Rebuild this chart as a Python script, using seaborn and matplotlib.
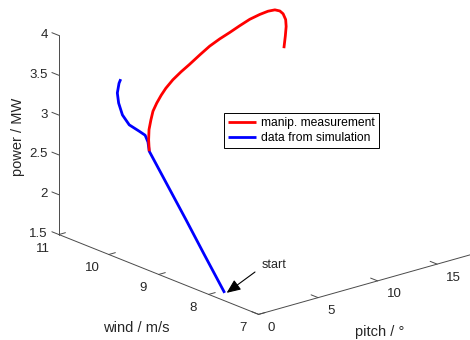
import numpy as np
import matplotlib
matplotlib.use("Agg")
import matplotlib.pyplot as plt
import seaborn as sns
import pandas as pd
from mpl_toolkits.mplot3d import proj3d

# ---------------- data ----------------
series_names = ["manip. measurement", "data from simulation"]

meas_pitch = [0, 0.2, 0.4, 0.6, 0.9, 1.3, 1.8, 2.4, 3.2, 4.1, 5.0, 6.3, 7.3,
              8.4, 9.5, 10.7, 11.8, 12.9, 13.8, 14.5, 15.0, 15.4, 15.7, 15.95,
              16.3, 16.6]
meas_wind = [9.19, 9.25, 9.29, 9.30, 9.33, 9.35, 9.38, 9.43, 9.48, 9.53, 9.58,
             9.67, 9.72, 9.78, 9.84, 9.93, 9.99, 10.05, 10.10, 10.13, 10.15,
             10.18, 10.20, 10.25, 10.35, 10.45]
meas_power = [3.00, 3.12, 3.23, 3.34, 3.43, 3.51, 3.58, 3.63, 3.69, 3.74, 3.78,
              3.83, 3.88, 3.91, 3.93, 3.94, 3.96, 3.96, 3.95, 3.93, 3.89, 3.83,
              3.74, 3.63, 3.47, 3.28]

sim_pitch = [0, 0, 0, 0, 0.1, 0.2, 0.3, 0.5, 0.6, 0.7, 0.8, 0.9, 1.0]
sim_wind = [7.68, 8.09, 8.45, 9.19, 9.24, 9.32, 9.46, 9.71, 9.87, 9.97, 10.02,
            10.01, 10.00]
sim_power = [1.60, 1.98, 2.32, 3.00, 3.10, 3.16, 3.17, 3.18, 3.26, 3.38, 3.49,
             3.61, 3.66]

pitch_ticks = [0, 5, 10, 15, 20]
pitch_tick_labels = ["0", "5", "10", "15", "20"]
wind_ticks = [7, 8, 9, 10, 11]
wind_tick_labels = ["7", "8", "9", "10", "11"]
power_ticks = [1.5, 2, 2.5, 3, 3.5, 4]
power_tick_labels = ["1.5", "2", "2.5", "3", "3.5", "4"]
pitch_lim = (0, 20)
wind_lim = (7, 11)
power_lim = (1.5, 4)

annotation_text = "start"
xlabel = "pitch / °"
ylabel = "wind / m/s"
zlabel = "power / MW"

# ---------------- style ----------------
sns.set_theme(style="white")
plt.rcParams["font.family"] = ["Liberation Sans", "DejaVu Sans"]
TXT = "#262626"
AX = "#4a4a4a"

W, H = 470, 340
fig = plt.figure(figsize=(W / 100, H / 100), dpi=100)
fig.patch.set_facecolor("white")
ax = fig.add_axes([0.05, 0.05, 0.9, 0.9], projection="3d")
ax.set_proj_type("ortho")
ax.view_init(elev=19.6, azim=-130)
ax.set_box_aspect((1, 1, 0.68))
ax.set_xlim(*pitch_lim)
ax.set_ylim(*wind_lim)
ax.set_zlim(*power_lim)
ax.set_axis_off()
ax.computed_zorder = False


def proj(x, y, z):
    X, Y, _ = proj3d.proj_transform(np.atleast_1d(float(x)), np.atleast_1d(float(y)),
                                    np.atleast_1d(float(z)), ax.get_proj())
    return ax.transData.transform(np.column_stack([X, Y]))[0]


# ---- calibrate the axes box so the 3D box lands where the reference has it ----
fig.canvas.draw()
ref3d = [(pitch_lim[0], wind_lim[1], power_lim[1]),
         (pitch_lim[0], wind_lim[0], power_lim[0]),
         (15, wind_lim[0], power_lim[0])]
ref_px = [(59, 35), (259, 314.5), (436.6, 264.5)]
u = np.vstack([proj(*p) for p in ref3d])
t = np.array([(x, H - y) for x, y in ref_px])
uc = u - u.mean(0)
tc = t - t.mean(0)
k = (uc * tc).sum() / (uc * uc).sum()
b = t.mean(0) - k * u.mean(0)
bb = ax.get_position()
c_old = np.array([(bb.x0 + bb.x1) / 2 * W, (bb.y0 + bb.y1) / 2 * H])
side = k * bb.width * W
c_new = b + k * c_old
ax.set_position([(c_new[0] - side / 2) / W, (c_new[1] - side / 2) / H, side / W, side / H])
fig.canvas.draw()

# ---------------- data lines ----------------
df = pd.concat([
    pd.DataFrame({"pitch": meas_pitch, "wind": meas_wind, "power": meas_power,
                  "series": series_names[0]}),
    pd.DataFrame({"pitch": sim_pitch, "wind": sim_wind, "power": sim_power,
                  "series": series_names[1]}),
])
colors = {series_names[0]: (1, 0, 0), series_names[1]: (0, 0, 1)}
zord = {series_names[0]: 4, series_names[1]: 3}
handles = []
for name in series_names:
    d = df[df["series"] == name]
    h, = ax.plot(d["pitch"], d["wind"], d["power"], color=colors[name], lw=2.0,
                 label=name, zorder=zord[name], solid_capstyle="butt",
                 solid_joinstyle="round")
    handles.append(h)

# ---------------- axes lines & ticks ----------------
p0, p1 = pitch_lim
w0, w1 = wind_lim
z0, z1 = power_lim
akw = dict(color=AX, lw=0.7, zorder=1)
ax.plot([p0, p0], [w1, w1], [z0, z1], **akw)
ax.plot([p0, p0], [w0, w1], [z0, z0], **akw)
ax.plot([p0, p1], [w0, w0], [z0, z0], **akw)
for z in power_ticks:
    ax.plot([p0, p0], [w1, w1 + 0.14], [z, z], **akw)
for w in wind_ticks:
    ax.plot([p0, p0 + 0.55], [w, w], [z0, z0], **akw)
for p in pitch_ticks:
    ax.plot([p, p], [w0, w0 + 0.14], [z0, z0], **akw)

fs_tick = 9.5
for z, lab in zip(power_ticks, power_tick_labels):
    x, y = proj(p0, w1, z)
    fig.text((x - 11) / W, (y + 0.5) / H, lab, ha="right", va="center",
             fontsize=fs_tick, color=TXT)
for w, lab in zip(wind_ticks, wind_tick_labels):
    x, y = proj(p0, w, z0)
    fig.text((x - 16) / W, (y - 14) / H, lab, ha="center", va="center",
             fontsize=fs_tick, color=TXT)
for p, lab in zip(pitch_ticks, pitch_tick_labels):
    x, y = proj(p, w0, z0)
    if x + 9 > W - 20:      # tick lies beyond the cropped figure edge
        continue
    fig.text((x + 9) / W, (y - 13.5) / H, lab, ha="left", va="center",
             fontsize=fs_tick, color=TXT)

fs_lab = 10.5
fig.text(18 / W, 1 - 137 / H, zlabel, rotation=90, ha="center", va="center",
         fontsize=fs_lab, color=TXT)
fig.text(136 / W, 1 - 328 / H, ylabel, ha="center", va="center",
         fontsize=fs_lab, color=TXT)
fig.text(380 / W, 1 - 332 / H, xlabel, ha="center", va="center",
         fontsize=fs_lab, color=TXT)

# ---------------- annotation ----------------
sx, sy = proj(sim_pitch[0], sim_wind[0], sim_power[0])
ax.annotate("", xy=(sx + 2, sy), xycoords="figure pixels",
            xytext=(255, H - 272), textcoords="figure pixels",
            arrowprops=dict(arrowstyle="-|>,head_length=0.7,head_width=0.3",
                            color="black", lw=0.8, shrinkA=0, shrinkB=0,
                            mutation_scale=12),
            annotation_clip=False)
fig.text(274 / W, 1 - 265 / H, annotation_text, ha="center", va="center",
         fontsize=9, color=TXT)

# ---------------- legend ----------------
leg = fig.legend(handles, series_names, loc="upper left",
                 bbox_to_anchor=(224 / W, 1 - 113 / H), bbox_transform=fig.transFigure,
                 frameon=True, fancybox=False, edgecolor="black", framealpha=1,
                 fontsize=8.7, handlelength=2.3, handletextpad=0.4,
                 borderpad=0.35, labelspacing=0.25, borderaxespad=0)
leg.get_frame().set_linewidth(0.7)
for txt in leg.get_texts():
    txt.set_color("black")

fig.savefig("out.png", dpi=100, facecolor="white")
